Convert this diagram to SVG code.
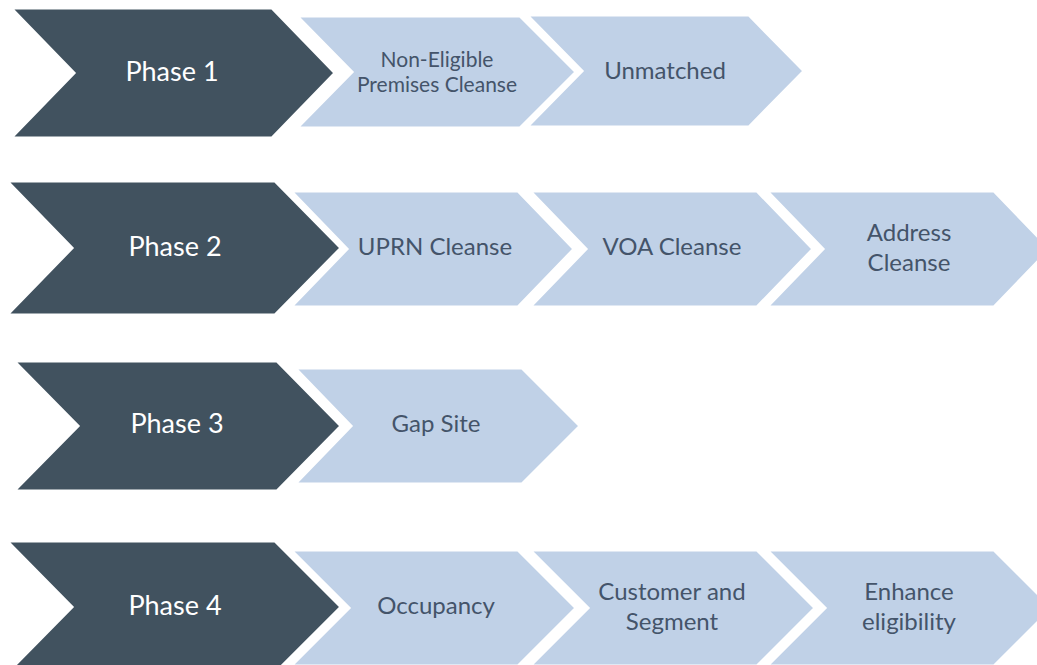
<svg xmlns="http://www.w3.org/2000/svg" width="1037" height="665" viewBox="0 0 1037 665">
  <style>
    .phase { fill: #41525F; stroke: #FFFFFF; stroke-width: 3; stroke-linejoin: miter; }
    .step { fill: #C0D1E7; stroke: #FFFFFF; stroke-width: 3; stroke-linejoin: miter; }
    .ptxt { font-family: Lato, "Open Sans", sans-serif; font-size: 27px; fill: #FFFFFF; text-anchor: middle; }
    .stxt { font-family: Lato, "Open Sans", sans-serif; font-size: 24px; fill: #44546A; text-anchor: middle; }
    .small { font-size: 21px; }
  </style>
  <rect width="1037" height="665" fill="#FFFFFF"/>

  <!-- Row 1 -->
  <g id="step-1-2">
    <polygon class="step" points="527,15 749,15 804,71 749,127 527,127 582,71"/>
    <text class="stxt" x="665" y="79">Unmatched</text>
  </g>
  <g id="step-1-1">
    <polygon class="step" points="297,16 520,16 576,72 520,128 297,128 352,72"/>
    <text class="stxt small" x="437" y="67">Non-Eligible</text>
    <text class="stxt small" x="437" y="92">Premises Cleanse</text>
  </g>
  <g id="phase-1">
    <polygon class="phase" points="11,8 272,8 335,73 272,138 11,138 74,73"/>
    <text class="ptxt" x="172" y="81">Phase 1</text>
  </g>

  <!-- Row 2 -->
  <g id="step-2-3">
    <polygon class="step" points="767,191 994,191 1050,249 994,307 767,307 823,249"/>
    <text class="stxt" x="909" y="241">Address</text>
    <text class="stxt" x="909" y="271">Cleanse</text>
  </g>
  <g id="step-2-2">
    <polygon class="step" points="530,191 757,191 813,249 757,307 530,307 586,249"/>
    <text class="stxt" x="672" y="255">VOA Cleanse</text>
  </g>
  <g id="step-2-1">
    <polygon class="step" points="291,191 518,191 574,249 518,307 291,307 347,249"/>
    <text class="stxt" x="435" y="255">UPRN Cleanse</text>
  </g>
  <g id="phase-2">
    <polygon class="phase" points="7,181 275,181 341,248 275,315 7,315 72,248"/>
    <text class="ptxt" x="175" y="256">Phase 2</text>
  </g>

  <!-- Row 3 -->
  <g id="step-3-1">
    <polygon class="step" points="295,368 522,368 580,426 522,484 295,484 351,426"/>
    <text class="stxt" x="436" y="432">Gap Site</text>
  </g>
  <g id="phase-3">
    <polygon class="phase" points="14,361 277,361 341,426 277,491 14,491 78,426"/>
    <text class="ptxt" x="177" y="433">Phase 3</text>
  </g>

  <!-- Row 4 -->
  <g id="step-4-3">
    <polygon class="step" points="767,550 994,550 1052,608 994,666 767,666 825,608"/>
    <text class="stxt" x="909" y="600">Enhance</text>
    <text class="stxt" x="909" y="630">eligibility</text>
  </g>
  <g id="step-4-2">
    <polygon class="step" points="530,550 757,550 815,608 757,666 530,666 588,608"/>
    <text class="stxt" x="672" y="600">Customer and</text>
    <text class="stxt" x="672" y="630">Segment</text>
  </g>
  <g id="step-4-1">
    <polygon class="step" points="291,550 518,550 576,608 518,666 291,666 349,608"/>
    <text class="stxt" x="436" y="614">Occupancy</text>
  </g>
  <g id="phase-4">
    <polygon class="phase" points="7,541 275,541 341,607 275,673 7,673 72,607"/>
    <text class="ptxt" x="175" y="615">Phase 4</text>
  </g>

  <!-- no connectors: the chevrons abut directly -->
  <g id="connectors"/>
</svg>
